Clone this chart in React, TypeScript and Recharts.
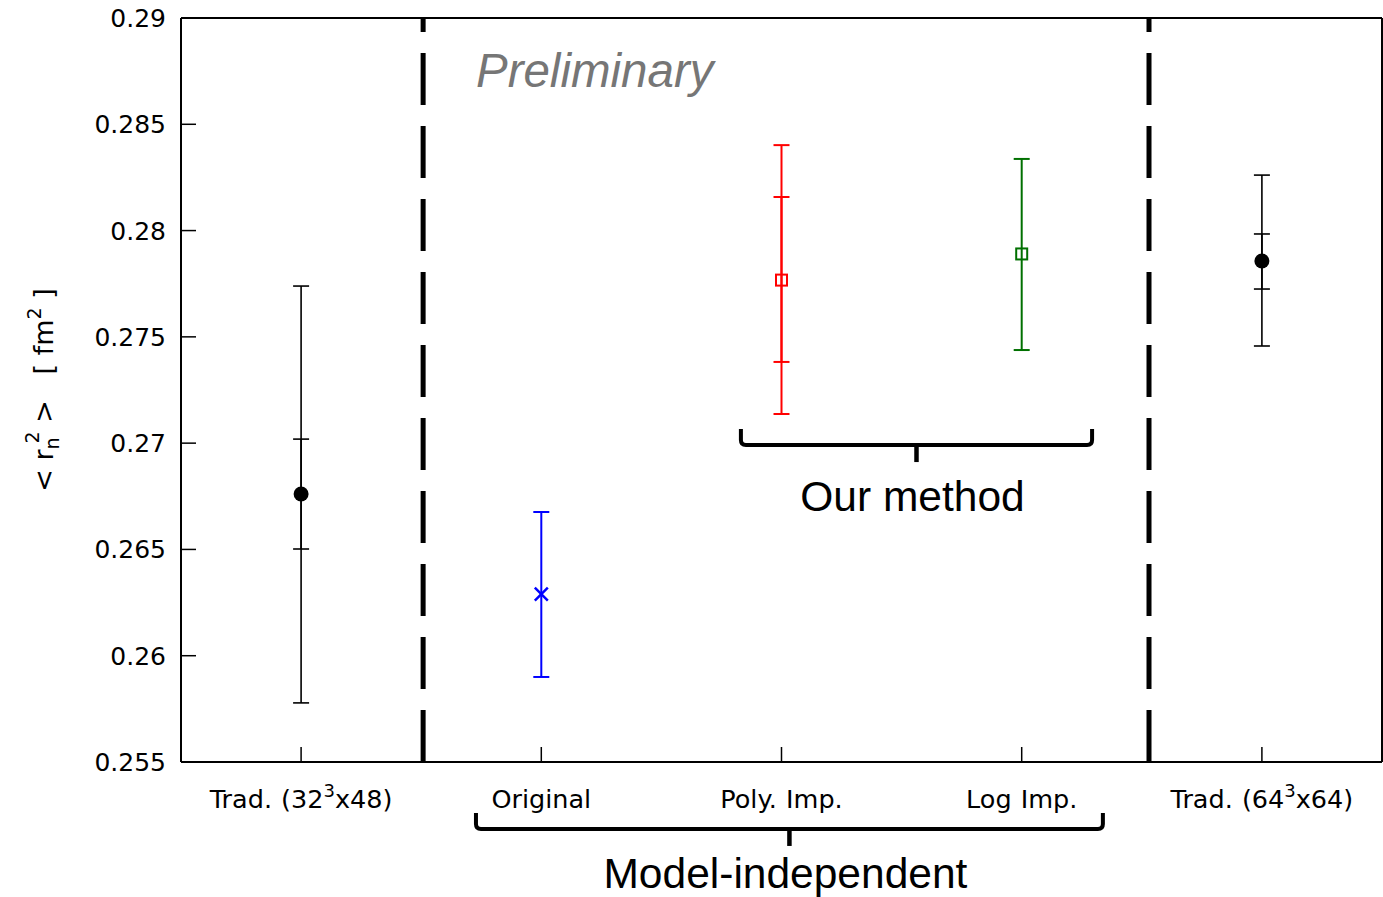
import React from 'react';
import { ComposedChart, Scatter, XAxis, YAxis, ErrorBar, ReferenceLine, ReferenceDot } from 'recharts';

// ---------- data ----------
const categories = ['Trad. (32^3x48)', 'Original', 'Poly. Imp.', 'Log Imp.', 'Trad. (64^3x64)'];
const xPositions = [1, 2, 3, 4, 5];
const centralValues = [0.26761, 0.2629, 0.27767, 0.2789, 0.27857];
const totalLow = [0.25778, 0.259, 0.27137, 0.27438, 0.27457];
const totalHigh = [0.27739, 0.26676, 0.28402, 0.28337, 0.28261];
const innerLow: (number | null)[] = [0.26502, null, 0.27382, null, 0.27725];
const innerHigh: (number | null)[] = [0.27019, null, 0.28158, null, 0.27984];

const yTicks = [0.255, 0.26, 0.265, 0.27, 0.275, 0.28, 0.285, 0.29];
const yTickLabels = ['0.255', '0.26', '0.265', '0.27', '0.275', '0.28', '0.285', '0.29'];
const separators = [1.508, 4.53];

// annotations (data coordinates)
const braceOurMethod = { x1: 2.831, x2: 4.293, y: 0.26991, text: 'Our method' };
const braceModelIndep = { x1: 1.728, x2: 4.338, y: 0.25185, text: 'Model-independent' };
const preliminary = { x: 1.728, y: 0.28675, text: 'Preliminary' };

// ---------- styles ----------
const seriesColors = ['#000000', '#0000ff', '#ff0000', '#007000', '#000000'];
const seriesMarkers = ['circle', 'cross', 'square', 'square', 'circle'];
const seriesStroke = [1.6, 2, 2, 2, 1.6];
const TICK_FONT = 'DejaVu Sans';
const ANNO_FONT = 'Liberation Sans, Arial, sans-serif';

const makeShape = (i: number) => (props: any) => {
  const { cx, cy } = props;
  const c = seriesColors[i];
  const m = seriesMarkers[i];
  if (cx == null || cy == null) return <g />;
  if (m === 'circle') return <circle cx={cx} cy={cy} r={7.5} fill={c} stroke="none" />;
  if (m === 'cross')
    return (
      <g stroke={c} strokeWidth={2.5}>
        <line x1={cx - 6.5} y1={cy - 6.5} x2={cx + 6.5} y2={cy + 6.5} />
        <line x1={cx - 6.5} y1={cy + 6.5} x2={cx + 6.5} y2={cy - 6.5} />
      </g>
    );
  return <rect x={cx - 5.5} y={cy - 5.5} width={11} height={11} fill="none" stroke={c} strokeWidth={2} />;
};

const XTick = (props: any) => {
  const { x, y, payload } = props;
  const idx = xPositions.indexOf(payload.value);
  const label = idx >= 0 ? categories[idx] : '';
  const parts = label.split(/\^(\d)/);
  return (
    <text
      x={x}
      y={y + 46}
      textAnchor="middle"
      fontFamily={TICK_FONT}
      fontSize={25.5}
      fill="#000"
      style={{ whiteSpace: 'pre', wordSpacing: 1 }}
    >
      {parts.length === 3 ? (
        <>
          <tspan>{parts[0]}</tspan>
          <tspan fontSize={18} dy={-11}>{parts[1]}</tspan>
          <tspan dy={11}>{parts[2]}</tspan>
        </>
      ) : (
        label
      )}
    </text>
  );
};

const YTick = (props: any) => {
  const { x, y, payload } = props;
  const idx = yTicks.findIndex((t) => Math.abs(t - payload.value) < 1e-9);
  return (
    <text x={x} y={y} dy={9} textAnchor="end" fontFamily={TICK_FONT} fontSize={25} fill="#000">
      {idx >= 0 ? yTickLabels[idx] : ''}
    </text>
  );
};

const YLabel = (props: any) => {
  const vb = props.viewBox || { y: 18, height: 744 };
  const cy = vb.y + vb.height / 2;
  const bx = 53;
  return (
    <text
      transform={`rotate(-90, ${bx}, ${cy})`}
      x={bx}
      y={cy}
      textAnchor="middle"
      fontFamily={TICK_FONT}
      fontSize={27}
      fill="#000"
      style={{ whiteSpace: 'pre' }}
    >
      <tspan>{'< r'}</tspan>
      <tspan fontSize={19} dy={6}>n</tspan>
      <tspan fontSize={19} dx={-6} dy={-20}>2</tspan>
      <tspan dy={14}>{' >   [ fm'}</tspan>
      <tspan fontSize={19} dy={-12}>2</tspan>
      <tspan dy={12}>{' ]'}</tspan>
    </text>
  );
};

const braceShape = (text: string, textDy: number) => (props: any) => {
  const { x1, y1, x2 } = props;
  if (x1 == null) return <g />;
  const y = y1;
  const xc = (x1 + x2) / 2;
  const h = 16;
  const r = 5;
  const d = `M ${x1} ${y - h} L ${x1} ${y - r} Q ${x1} ${y} ${x1 + r} ${y} L ${x2 - r} ${y} Q ${x2} ${y} ${x2} ${y - r} L ${x2} ${y - h}`;
  return (
    <g>
      <path d={d} fill="none" stroke="#000" strokeWidth={4} />
      <line x1={xc} y1={y} x2={xc} y2={y + 17} stroke="#000" strokeWidth={4.5} />
      <text x={xc - 4} y={y + textDy} textAnchor="middle" fontFamily={ANNO_FONT} fontSize={42.5} fill="#000">
        {text}
      </text>
    </g>
  );
};

const prelimShape = (props: any) => (
  <text x={props.cx} y={props.cy} fontFamily={ANNO_FONT} fontStyle="italic" fontSize={47.5} fill="#767676">
    {preliminary.text}
  </text>
);

export default function App() {
  return (
    <div style={{ position: 'absolute', left: 0, top: 0, width: 1383, height: 897, background: '#fff' }}>
      <ComposedChart width={1383} height={897} margin={{ top: 17, right: 0, bottom: 0, left: 0 }}>
        <XAxis
          xAxisId="b"
          dataKey="x"
          type="number"
          domain={[0.5, 5.5]}
          ticks={xPositions}
          orientation="bottom"
          height={135}
          tickSize={-15}
          tickMargin={15}
          tick={<XTick />}
          axisLine={{ stroke: '#000', strokeWidth: 2 }}
          tickLine={{ stroke: '#000', strokeWidth: 1.5 }}
          allowDataOverflow
        />
        <XAxis
          xAxisId="t"
          type="number"
          domain={[0.5, 5.5]}
          ticks={xPositions}
          orientation="top"
          height={1}
          tickSize={-15}
          tick={false}
          axisLine={{ stroke: '#000', strokeWidth: 2 }}
          tickLine={{ stroke: '#000', strokeWidth: 1.5 }}
          allowDataOverflow
        />
        <YAxis
          yAxisId="l"
          dataKey="y"
          type="number"
          domain={[0.255, 0.29]}
          ticks={yTicks}
          orientation="left"
          width={181}
          tickSize={-15}
          tickMargin={30}
          tick={<YTick />}
          axisLine={{ stroke: '#000', strokeWidth: 2 }}
          tickLine={{ stroke: '#000', strokeWidth: 1.5 }}
          label={<YLabel />}
          allowDataOverflow
        />
        <YAxis
          yAxisId="r"
          type="number"
          domain={[0.255, 0.29]}
          ticks={yTicks}
          orientation="right"
          width={1}
          tickSize={-15}
          tick={false}
          axisLine={{ stroke: '#000', strokeWidth: 2 }}
          tickLine={{ stroke: '#000', strokeWidth: 1.5 }}
          allowDataOverflow
        />

        {separators.map((s) => (
          <ReferenceLine
            key={s}
            x={s}
            xAxisId="b"
            yAxisId="l"
            stroke="#000"
            strokeWidth={5}
            strokeDasharray="52 21"
          />
        ))}

        {xPositions.map((xv, i) => {
          const row: any = {
            x: xv,
            y: centralValues[i],
            err: [centralValues[i] - totalLow[i], totalHigh[i] - centralValues[i]],
          };
          const hasInner = innerLow[i] != null && innerHigh[i] != null;
          if (hasInner) row.inner = [centralValues[i] - (innerLow[i] as number), (innerHigh[i] as number) - centralValues[i]];
          return (
            <Scatter
              key={i}
              data={[row]}
              dataKey="y"
              xAxisId="b"
              yAxisId="l"
              isAnimationActive={false}
              shape={makeShape(i)}
            >
              <ErrorBar
                dataKey="err"
                direction="y"
                width={8}
                stroke={seriesColors[i]}
                strokeWidth={seriesStroke[i]}
                isAnimationActive={false}
              />
              {hasInner && (
                <ErrorBar
                  dataKey="inner"
                  direction="y"
                  width={8}
                  stroke={seriesColors[i]}
                  strokeWidth={seriesStroke[i]}
                  isAnimationActive={false}
                />
              )}
            </Scatter>
          );
        })}

        <ReferenceLine
          xAxisId="b"
          yAxisId="l"
          ifOverflow="visible"
          segment={[
            { x: braceOurMethod.x1, y: braceOurMethod.y },
            { x: braceOurMethod.x2, y: braceOurMethod.y },
          ]}
          shape={braceShape(braceOurMethod.text, 66)}
        />
        <ReferenceLine
          xAxisId="b"
          yAxisId="l"
          ifOverflow="visible"
          segment={[
            { x: braceModelIndep.x1, y: braceModelIndep.y },
            { x: braceModelIndep.x2, y: braceModelIndep.y },
          ]}
          shape={braceShape(braceModelIndep.text, 59)}
        />
        <ReferenceDot
          xAxisId="b"
          yAxisId="l"
          x={preliminary.x}
          y={preliminary.y}
          r={0}
          ifOverflow="visible"
          shape={prelimShape}
        />
      </ComposedChart>
    </div>
  );
}
